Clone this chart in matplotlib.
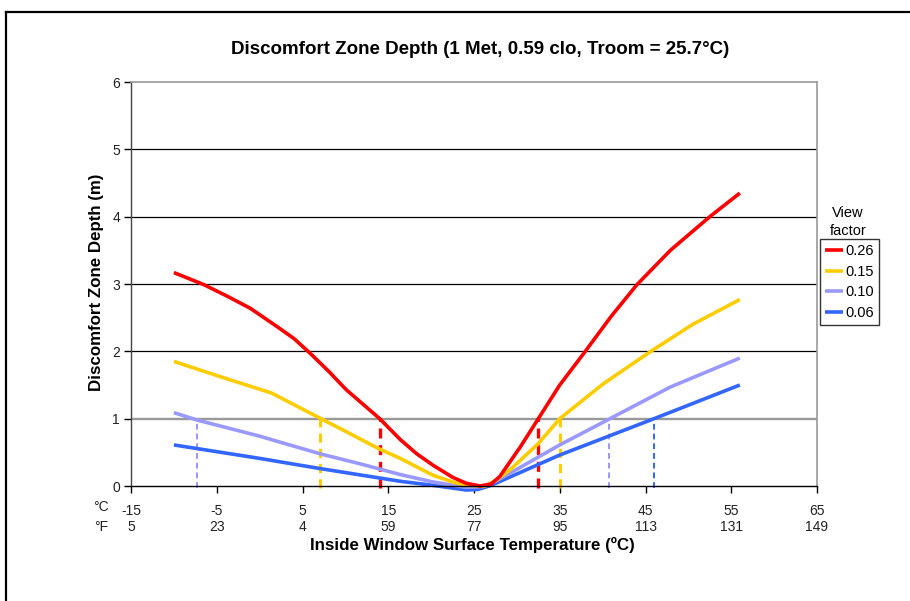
import matplotlib
matplotlib.use("Agg")
import matplotlib.pyplot as plt
from matplotlib.lines import Line2D

plt.rcParams['font.family'] = ['Liberation Sans', 'DejaVu Sans']

# Discomfort zone depth (m) versus inside window surface temperature (degC)
temp_026 = [-10.0, -6.5, -3.8, -1.1, 2.0, 4.0, 5.9, 8.0, 10.1, 14.0, 16.4, 18.3, 20.2, 22.5, 24.1,
            25.7, 27.0, 28.0, 30.4, 32.5, 35.0, 37.8, 41.0, 44.0, 47.9, 52.5, 56.0]
depth_026 = [3.17, 2.99, 2.82, 2.64, 2.37, 2.19, 1.97, 1.71, 1.43, 1.00, 0.69, 0.48, 0.31, 0.13, 0.04,
             0.00, 0.03, 0.14, 0.58, 1.00, 1.50, 1.97, 2.52, 2.99, 3.50, 4.00, 4.35]

temp_015 = [-10.0, -4.5, 1.4, 7.0, 10.2, 13.8, 16.4, 20.2, 22.5, 24.1, 26.3, 27.5,
            29.2, 32.5, 35.0, 40.1, 45.5, 50.5, 56.0]
depth_015 = [1.85, 1.62, 1.38, 1.01, 0.80, 0.56, 0.41, 0.16, 0.06, 0.01, 0.00, 0.08,
             0.24, 0.63, 1.00, 1.52, 1.99, 2.40, 2.77]

temp_010 = [-10.0, -7.3, 0.0, 7.0, 12.0, 16.4, 20.2, 24.1, 26.0, 27.5, 29.2, 35.0,
            40.7, 47.9, 56.0]
depth_010 = [1.09, 0.98, 0.74, 0.48, 0.32, 0.17, 0.06, -0.02, -0.01, 0.07, 0.19, 0.61,
             0.99, 1.47, 1.90]

temp_006 = [-10.0, 0.0, 7.0, 16.4, 20.2, 24.1, 25.5, 27.0, 35.0, 46.0, 56.0]
depth_006 = [0.61, 0.41, 0.26, 0.07, 0.01, -0.06, -0.05, 0.01, 0.46, 1.00, 1.50]

# Temperatures where each curve crosses a depth of 1 m
cross_026 = [14.0, 32.5]
cross_015 = [7.0, 35.0]
cross_010 = [-7.3, 40.7]
cross_006 = [46.0]

view_factors = ['0.26', '0.15', '0.10', '0.06']
colors = ['#FF0000', '#FFCC00', '#9999FF', '#3366FF']

celsius_ticks = [-15, -5, 5, 15, 25, 35, 45, 55, 65]
fahrenheit_labels = ['5', '23', '4', '59', '77', '95', '113', '131', '149']

W, H = 910, 601
fig = plt.figure(figsize=(W / 100, H / 100), dpi=100)

# outer border (top and left edges)
fig.add_artist(Line2D([6 / W, 1.0], [1 - 12 / H, 1 - 12 / H], transform=fig.transFigure,
                      color='black', lw=1.6))
fig.add_artist(Line2D([6 / W, 6 / W], [0, 1 - 12 / H], transform=fig.transFigure,
                      color='black', lw=1.6))

ax = fig.add_axes([131 / W, 1 - 486 / H, (817 - 131) / W, (486 - 82) / H])
ax.set_facecolor('white')
ax.set_xlim(-15, 65)
ax.set_ylim(0, 6)

# horizontal grid: the 1 m threshold is drawn in grey, the rest in black
for g in [2, 3, 4, 5]:
    ax.axhline(g, color='black', lw=0.9, zorder=1)
ax.axhline(1, color='#999999', lw=1.7, zorder=1)

series = [(temp_026, depth_026, cross_026),
          (temp_015, depth_015, cross_015),
          (temp_010, depth_010, cross_010),
          (temp_006, depth_006, cross_006)]
dash_widths = [2.4, 2.2, 1.4, 1.4]

for (t, d, cross), c, dw in zip(series, colors, dash_widths):
    for x in cross:
        ax.plot([x, x], [-0.03, 1], color=c, lw=dw, ls=(0, (3, 2)),
                clip_on=False, zorder=2)

for (t, d, cross), c, lbl in zip(reversed(series), reversed(colors), reversed(view_factors)):
    ax.plot(t, d, color=c, lw=2.6, solid_joinstyle='round', solid_capstyle='butt',
            clip_on=False, zorder=3, label=lbl)

for side in ['top', 'right']:
    ax.spines[side].set_color('#999999')
    ax.spines[side].set_linewidth(1.2)
ax.spines['left'].set_color('#444444')
ax.spines['left'].set_linewidth(1.0)
ax.spines['bottom'].set_color('black')
ax.spines['bottom'].set_linewidth(1.0)
ax.spines['bottom'].set_zorder(4)

ax.set_yticks(range(0, 7))
ax.set_yticklabels([str(v) for v in range(0, 7)], fontsize=10, color='#222222')
ax.tick_params(axis='y', direction='out', length=5, width=1, pad=3)

ax.set_xticks(celsius_ticks)
ax.set_xticklabels([str(v) for v in celsius_ticks], fontsize=10, color='#222222')
ax.tick_params(axis='x', direction='out', length=5, width=1, pad=8)

# second row of tick labels in degrees Fahrenheit
trans = ax.get_xaxis_transform()
for x, f in zip(celsius_ticks, fahrenheit_labels):
    ax.text(x, -41 / 404, f, transform=trans,
            ha='center', va='center', fontsize=10, color='#222222')

fig.text(101 / W, 1 - 507 / H, '°C', ha='center', va='center', fontsize=10, color='#222222')
fig.text(101 / W, 1 - 527 / H, '°F', ha='center', va='center', fontsize=10, color='#222222')

fig.text(480 / W, 1 - 50 / H, 'Discomfort Zone Depth (1 Met, 0.59 clo, Troom = 25.7°C)',
         ha='center', va='center', fontsize=13.5, fontweight='bold')
fig.text(472 / W, 1 - 545 / H, 'Inside Window Surface Temperature (ºC)',
         ha='center', va='center', fontsize=12.2, fontweight='bold')
fig.text(97 / W, 1 - 282 / H, 'Discomfort Zone Depth (m)', rotation=90,
         ha='center', va='center', fontsize=12.2, fontweight='bold')

fig.text(848 / W, 1 - 213 / H, 'View', ha='center', va='center', fontsize=10.5)
fig.text(848 / W, 1 - 231 / H, 'factor', ha='center', va='center', fontsize=10.5)

handles, labels = ax.get_legend_handles_labels()
order = [labels.index(v) for v in view_factors]
leg = ax.legend([handles[i] for i in order], [labels[i] for i in order],
                loc='upper left', bbox_to_anchor=(820 / W, 1 - 239 / H),
                bbox_transform=fig.transFigure, fontsize=10.5, frameon=True,
                fancybox=False, edgecolor='black', handlelength=1.2,
                handletextpad=0.2, borderpad=0.35, labelspacing=0.45,
                borderaxespad=0)
leg.get_frame().set_linewidth(1.0)

fig.savefig('out.png', dpi=100, facecolor='white')
